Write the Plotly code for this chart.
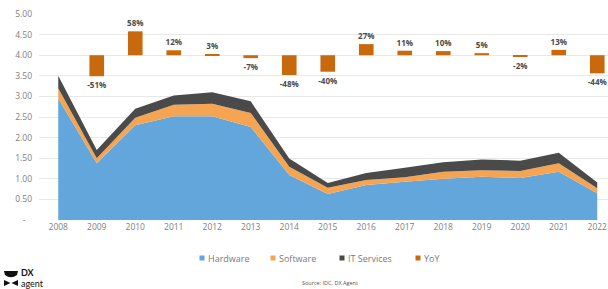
import plotly.graph_objects as go

years = [str(y) for y in range(2008, 2023)]
hardware = [2.95, 1.38, 2.30, 2.52, 2.52, 2.26, 1.09, 0.63, 0.85, 0.93, 1.00, 1.05, 1.02, 1.17, 0.65]
software = [0.25, 0.12, 0.18, 0.28, 0.30, 0.34, 0.20, 0.15, 0.12, 0.11, 0.17, 0.16, 0.17, 0.21, 0.12]
it_services = [0.30, 0.20, 0.22, 0.22, 0.28, 0.28, 0.20, 0.12, 0.17, 0.23, 0.23, 0.26, 0.25, 0.25, 0.14]
yoy = [None, -51, 58, 12, 3, -7, -48, -40, 27, 11, 10, 5, -2, 13, -44]
yoy_base = 4.0
y_ticks = [0, 0.5, 1.0, 1.5, 2.0, 2.5, 3.0, 3.5, 4.0, 4.5, 5.0]
y_ticktext = ["-   "] + [f"{v:.2f}" for v in y_ticks[1:]]
legend_names = ["Hardware", "Software", "IT Services", "YoY"]

C_HW = "#63a6dc"
C_SW = "#f5a552"
C_IT = "#4a4a4a"
C_YOY = "#c8690e"
legend_colors = [C_HW, C_SW, C_IT, C_YOY]

W, H = 608, 289
L, R, T, B = 39, 0, 14, 69
PW, PH = W - L - R, H - T - B


def px(x):
    return (x - L) / PW


def py(y):
    return (H - B - y) / PH


fig = go.Figure()
for name, vals, col in [("Hardware", hardware, C_HW), ("Software", software, C_SW), ("IT Services", it_services, C_IT)]:
    fig.add_trace(go.Scatter(x=years, y=vals, name=name, stackgroup="one", mode="none",
                             fillcolor=col, line=dict(width=0), showlegend=False, hoverinfo="x+y+name"))

bar_x = [y for y, v in zip(years, yoy) if v is not None]
bar_v = [v / 100 for v in yoy if v is not None]
bar_t = [f"{v}%" for v in yoy if v is not None]
fig.add_trace(go.Bar(x=bar_x, y=bar_v, base=yoy_base, name="YoY", marker=dict(color=C_YOY, line=dict(width=0)),
                     width=0.38, text=bar_t, textposition="outside", cliponaxis=False, constraintext="none",
                     textfont=dict(size=8, color="#4a4a4a", family="Open Sans", weight="bold"),
                     showlegend=False))

shapes = []
annotations = []
leg_mx = [202, 273, 342, 418]
for name, col, mx in zip(legend_names, legend_colors, leg_mx):
    shapes.append(dict(type="rect", xref="paper", yref="paper",
                       x0=px(mx - 2.5), x1=px(mx + 2.5), y0=py(260.5), y1=py(255.5),
                       fillcolor=col, line=dict(width=0)))
    annotations.append(dict(text=name, x=px(mx + 4), y=py(258), xref="paper", yref="paper",
                            xanchor="left", yanchor="middle", showarrow=False,
                            font=dict(size=9, color="#7a7a7a", family="Open Sans")))

# logo
shapes.append(dict(type="path", xref="paper", yref="paper",
                   path=f"M {px(4)} {py(271)} L {px(18)} {py(271)} L {px(17)} {py(275)} Q {px(11)} {py(279.5)} {px(5)} {py(275)} Z",
                   fillcolor="#111111", line=dict(width=0)))
shapes.append(dict(type="path", xref="paper", yref="paper",
                   path=f"M {px(4)} {py(280)} L {px(10.5)} {py(283)} L {px(4)} {py(286)} Z",
                   fillcolor="#111111", line=dict(width=0)))
shapes.append(dict(type="path", xref="paper", yref="paper",
                   path=f"M {px(18)} {py(280)} L {px(11.5)} {py(283)} L {px(18)} {py(286)} Z",
                   fillcolor="#111111", line=dict(width=0)))

annotations += [
    dict(text="<b>DX</b>", x=px(19), y=py(272), xref="paper", yref="paper", xanchor="left", yanchor="middle",
         showarrow=False, font=dict(size=9, color="#111111", family="Lato")),
    dict(text="agent", x=px(19), y=py(283.5), xref="paper", yref="paper", xanchor="left", yanchor="middle",
         showarrow=False, font=dict(size=9, color="#111111", family="Lato")),
    dict(text="Source: IDC, DX Agent", x=px(330), y=py(283), xref="paper", yref="paper", xanchor="center",
         yanchor="middle", showarrow=False, font=dict(size=5.5, color="#555555", family="Open Sans")),
]

fig.update_layout(
    width=W, height=H,
    margin=dict(l=L, r=R, t=T, b=B, pad=0, autoexpand=False),
    paper_bgcolor="white", plot_bgcolor="white",
    font=dict(family="Open Sans", color="#808080", size=8),
    barmode="overlay",
    showlegend=False,
    shapes=shapes,
    annotations=annotations,
    xaxis=dict(type="category", range=[-0.5, (PW / 38.5) - 0.5], showgrid=False, zeroline=False,
               showline=False, ticks="", automargin=False, tickfont=dict(size=8.5, color="#808080")),
    yaxis=dict(range=[0, 5.001], tickvals=y_ticks, ticktext=y_ticktext, showgrid=True, gridcolor="#e8e8e8",
               gridwidth=1, zeroline=False, showline=False, ticks="", ticklabelstandoff=6, automargin=False,
               tickfont=dict(size=8.5, color="#808080")),
)

# remove the page's default body margin so the 608x289 figure fills the window exactly
fig.write_html("out.html", config={"displayModeBar": False},
               post_script="document.body.style.margin='0';document.body.style.overflow='hidden';")
